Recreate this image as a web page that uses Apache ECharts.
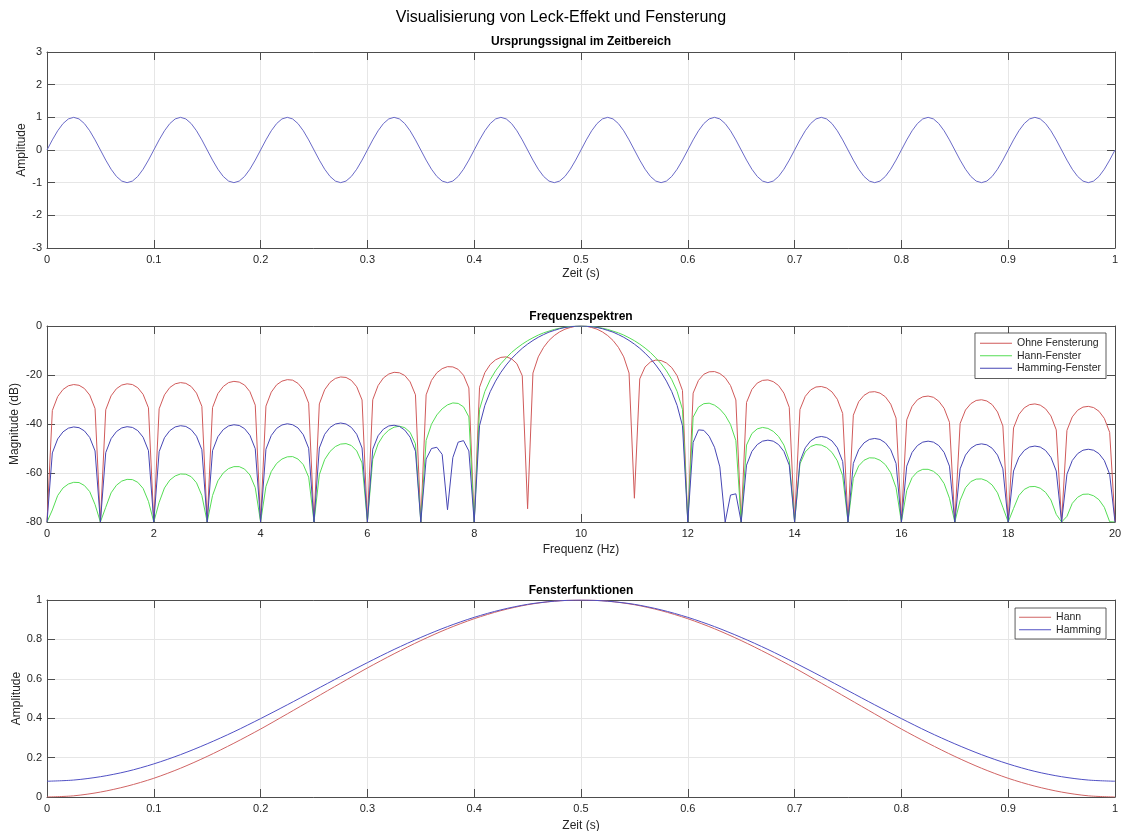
<!DOCTYPE html>
<html>
<head>
<meta charset="utf-8">
<script src="https://cdn.jsdelivr.net/npm/echarts@6/dist/echarts.min.js"></script>
<style>
  html, body { margin: 0; padding: 0; background: #ffffff; }
  #chart { width: 1123px; height: 831px; }
</style>
</head>
<body>
<div id="chart"></div>
<script>
// ---- Time signal: 10 Hz sine, sampled every 5 ms over 1 s ----
const sineStepS = 0.005;
const sineAmplitude = [
  0, 0.309, 0.588, 0.809, 0.951, 1, 0.951, 0.809, 0.588, 0.309, 0, -0.309, -0.588, -0.809, -0.951, -1, -0.951, -0.809, -0.588, -0.309,
  0, 0.309, 0.588, 0.809, 0.951, 1, 0.951, 0.809, 0.588, 0.309, 0, -0.309, -0.588, -0.809, -0.951, -1, -0.951, -0.809, -0.588, -0.309,
  0, 0.309, 0.588, 0.809, 0.951, 1, 0.951, 0.809, 0.588, 0.309, 0, -0.309, -0.588, -0.809, -0.951, -1, -0.951, -0.809, -0.588, -0.309,
  0, 0.309, 0.588, 0.809, 0.951, 1, 0.951, 0.809, 0.588, 0.309, 0, -0.309, -0.588, -0.809, -0.951, -1, -0.951, -0.809, -0.588, -0.309,
  0, 0.309, 0.588, 0.809, 0.951, 1, 0.951, 0.809, 0.588, 0.309, 0, -0.309, -0.588, -0.809, -0.951, -1, -0.951, -0.809, -0.588, -0.309,
  0, 0.309, 0.588, 0.809, 0.951, 1, 0.951, 0.809, 0.588, 0.309, 0, -0.309, -0.588, -0.809, -0.951, -1, -0.951, -0.809, -0.588, -0.309,
  0, 0.309, 0.588, 0.809, 0.951, 1, 0.951, 0.809, 0.588, 0.309, 0, -0.309, -0.588, -0.809, -0.951, -1, -0.951, -0.809, -0.588, -0.309,
  0, 0.309, 0.588, 0.809, 0.951, 1, 0.951, 0.809, 0.588, 0.309, 0, -0.309, -0.588, -0.809, -0.951, -1, -0.951, -0.809, -0.588, -0.309,
  0, 0.309, 0.588, 0.809, 0.951, 1, 0.951, 0.809, 0.588, 0.309, 0, -0.309, -0.588, -0.809, -0.951, -1, -0.951, -0.809, -0.588, -0.309,
  0, 0.309, 0.588, 0.809, 0.951, 1, 0.951, 0.809, 0.588, 0.309, 0, -0.309, -0.588, -0.809, -0.951, -1, -0.951, -0.809, -0.588, -0.309,
  0
];

// ---- Magnitude spectra in dB, one value every 0.1 Hz from 0 to 20 Hz ----
const freqStepHz = 0.1;
const magOhneFenster = [
  -80, -34.5, -28.8, -25.9, -24.4, -23.9, -24.2, -25.5, -28.2, -33.7,
  -80, -34.2, -28.5, -25.6, -24.1, -23.6, -23.9, -25.2, -27.9, -33.4,
  -80, -33.8, -28.1, -25.1, -23.6, -23.1, -23.4, -24.7, -27.4, -32.8,
  -80, -33.3, -27.6, -24.7, -23.1, -22.6, -22.9, -24.1, -26.8, -32.3,
  -80, -32.7, -27.0, -24.0, -22.5, -21.9, -22.1, -23.4, -26.0, -31.5,
  -80, -31.8, -26.0, -23.0, -21.4, -20.8, -21.0, -22.2, -24.8, -30.2,
  -80, -30.1, -24.3, -21.2, -19.6, -18.9, -19.1, -20.2, -22.8, -28.1,
  -80, -28.1, -22.2, -19.1, -17.4, -16.6, -16.7, -17.7, -20.1, -25.3,
  -80, -25.0, -19.0, -15.7, -13.8, -12.8, -12.6, -13.4, -15.4, -20.3,
  -74.6, -19.2, -12.6, -8.7, -5.9, -3.9, -2.4, -1.3, -0.6, -0.1,
  0, -0.1, -0.6, -1.3, -2.4, -3.9, -5.9, -8.7, -12.6, -19.2,
  -70.3, -21.6, -16.7, -14.7, -13.9, -14.1, -15.1, -17.0, -20.3, -26.3,
  -80, -27.4, -22.2, -19.7, -18.7, -18.6, -19.4, -21.1, -24.3, -30.2,
  -80, -31.2, -25.9, -23.3, -22.2, -22.0, -22.7, -24.3, -27.4, -33.2,
  -80, -34.1, -28.7, -26.1, -24.9, -24.7, -25.3, -26.9, -29.9, -35.7,
  -80, -36.4, -30.9, -28.3, -27.0, -26.8, -27.4, -28.9, -31.9, -37.6,
  -80, -38.3, -32.8, -30.1, -28.9, -28.6, -29.1, -30.7, -33.6, -39.3,
  -80, -39.8, -34.3, -31.7, -30.4, -30.1, -30.6, -32.1, -35.1, -40.8,
  -80, -41.6, -36.1, -33.4, -32.1, -31.8, -32.3, -33.8, -36.7, -42.4,
  -80, -42.6, -37.1, -34.4, -33.1, -32.8, -33.3, -34.8, -37.7, -43.4,
  -80
];
const magHannFenster = [
  -80, -75.1, -69.2, -66.1, -64.5, -63.8, -63.9, -65.1, -67.6, -72.9,
  -80, -74.0, -68.1, -65.0, -63.3, -62.6, -62.7, -63.8, -66.3, -71.6,
  -80, -72.0, -66.1, -62.9, -61.2, -60.4, -60.5, -61.5, -64.0, -69.2,
  -80, -69.2, -63.2, -60.0, -58.2, -57.4, -57.4, -58.4, -60.8, -66.0,
  -80, -65.5, -59.4, -56.1, -54.3, -53.4, -53.3, -54.3, -56.6, -61.7,
  -80, -60.7, -54.5, -51.2, -49.2, -48.2, -48.0, -48.8, -51.0, -55.9,
  -80, -54.4, -48.1, -44.6, -42.5, -41.3, -40.9, -41.5, -43.4, -48.1,
  -80, -46.7, -40.1, -36.3, -33.8, -32.2, -31.4, -31.6, -33.0, -37.1,
  -80, -34.0, -26.7, -21.9, -18.3, -15.4, -13.0, -10.8, -9.0, -7.4,
  -6.0, -4.8, -3.7, -2.8, -2.1, -1.4, -0.9, -0.5, -0.2, -0.1,
  0, -0.1, -0.2, -0.5, -0.9, -1.4, -2.1, -2.8, -3.7, -4.8,
  -6.0, -7.4, -9.0, -10.8, -13.0, -15.4, -18.3, -21.9, -26.7, -34.0,
  -80, -37.2, -33.1, -31.7, -31.5, -32.3, -33.9, -36.4, -40.2, -46.8,
  -80, -48.6, -43.9, -42.0, -41.4, -41.8, -43.0, -45.1, -48.6, -54.9,
  -80, -56.3, -51.4, -49.2, -48.4, -48.6, -49.6, -51.6, -55.0, -61.1,
  -80, -62.2, -57.1, -54.8, -53.8, -53.9, -54.8, -56.6, -59.9, -66.0,
  -80, -67.1, -61.9, -59.5, -58.5, -58.5, -59.3, -61.1, -64.3, -70.3,
  -80, -71.2, -66.0, -63.5, -62.5, -62.4, -63.2, -64.9, -68.1, -74.0,
  -80, -74.5, -69.2, -66.7, -65.6, -65.5, -66.2, -67.9, -71.0, -76.9,
  -80, -77.7, -72.4, -69.9, -68.7, -68.6, -69.3, -70.9, -74.0, -79.9,
  -80
];
const magHammingFenster = [
  -80, -51.8, -46.1, -43.2, -41.7, -41.2, -41.5, -42.8, -45.5, -51.0,
  -80, -51.7, -46.0, -43.1, -41.6, -41.1, -41.4, -42.7, -45.4, -50.9,
  -80, -51.3, -45.6, -42.7, -41.2, -40.7, -41.0, -42.3, -45.0, -50.5,
  -80, -50.9, -45.2, -42.3, -40.8, -40.3, -40.6, -41.9, -44.6, -50.1,
  -80, -50.3, -44.7, -41.8, -40.4, -39.9, -40.3, -41.6, -44.4, -49.9,
  -80, -49.8, -44.2, -41.4, -40.0, -39.6, -40.0, -41.4, -44.2, -49.8,
  -80, -50.3, -44.8, -42.1, -40.8, -40.5, -41.0, -42.5, -45.4, -51.1,
  -80, -54.3, -50.0, -49.5, -52.4, -75.0, -53.7, -47.4, -46.8, -51.0,
  -80, -40.7, -32.4, -26.8, -22.5, -18.9, -15.9, -13.3, -11.1, -9.1,
  -7.4, -5.9, -4.6, -3.5, -2.5, -1.8, -1.1, -0.6, -0.3, -0.1,
  0, -0.1, -0.3, -0.6, -1.1, -1.8, -2.5, -3.5, -4.6, -5.9,
  -7.4, -9.1, -11.1, -13.3, -15.9, -18.9, -22.5, -26.8, -32.4, -40.7,
  -80, -47.5, -42.4, -42.6, -45.0, -49.5, -57.5, -80, -69.0, -68.5,
  -80, -56.8, -51.2, -48.4, -47.0, -46.6, -47.0, -48.4, -51.2, -56.8,
  -80, -55.3, -49.7, -46.9, -45.5, -45.1, -45.5, -46.9, -49.7, -55.3,
  -80, -56.1, -50.5, -47.7, -46.3, -45.9, -46.3, -47.7, -50.5, -56.1,
  -80, -57.2, -51.6, -48.8, -47.4, -47.0, -47.4, -48.8, -51.6, -57.2,
  -80, -58.3, -52.7, -49.9, -48.5, -48.1, -48.5, -49.9, -52.7, -58.3,
  -80, -59.2, -53.6, -50.8, -49.4, -49.0, -49.4, -50.8, -53.6, -59.2,
  -80, -60.5, -54.9, -52.1, -50.7, -50.3, -50.7, -52.1, -54.9, -60.5,
  -80
];

// ---- Window functions, one value every 25 ms ----
const windowStepS = 0.025;
const windowHann = [
  0, 0.006, 0.025, 0.055, 0.095, 0.146, 0.206, 0.273, 0.345, 0.422,
  0.5, 0.578, 0.655, 0.727, 0.794, 0.854, 0.905, 0.946, 0.976, 0.994,
  1, 0.994, 0.976, 0.946, 0.905, 0.854, 0.794, 0.727, 0.655, 0.578,
  0.5, 0.422, 0.345, 0.273, 0.206, 0.146, 0.095, 0.055, 0.025, 0.006, 0
];
const windowHamming = [
  0.08, 0.086, 0.103, 0.13, 0.168, 0.215, 0.27, 0.331, 0.398, 0.468,
  0.54, 0.612, 0.682, 0.749, 0.81, 0.865, 0.912, 0.95, 0.978, 0.994,
  1, 0.994, 0.978, 0.95, 0.912, 0.865, 0.81, 0.749, 0.682, 0.612,
  0.54, 0.468, 0.398, 0.331, 0.27, 0.215, 0.168, 0.13, 0.103, 0.086, 0.08
];

// Pair evenly sampled values with their abscissa
function sampled(step, values) {
  return values.map((v, i) => [Number((i * step).toFixed(4)), v]);
}

const FONT = '"Liberation Sans", Arial, Helvetica, sans-serif';
const AXIS_COLOR = '#4d4d4d';
const GRID_COLOR = '#e6e6e6';
const TEXT_COLOR = '#262626';

const grids = [
  { left: 47, top: 52, width: 1068, height: 196, outerBoundsMode: 'none', containLabel: false },
  { left: 47, top: 326, width: 1068, height: 196, outerBoundsMode: 'none', containLabel: false },
  { left: 47, top: 600, width: 1068, height: 197, outerBoundsMode: 'none', containLabel: false }
];

function mainX(gridIndex, min, max, interval, name, nameGap) {
  return {
    type: 'value', gridIndex, min, max, interval, position: 'bottom',
    name, nameLocation: 'middle', nameGap,
    nameTextStyle: { fontFamily: FONT, fontSize: 12, color: TEXT_COLOR },
    axisLine: { show: true, onZero: false, lineStyle: { color: AXIS_COLOR, width: 1 } },
    axisTick: { show: true, inside: true, length: 8, lineStyle: { color: AXIS_COLOR } },
    axisLabel: { fontFamily: FONT, fontSize: 11, color: TEXT_COLOR, margin: 6 },
    splitLine: { show: true, lineStyle: { color: GRID_COLOR, width: 1 } }
  };
}
function boxX(gridIndex, min, max, interval) {
  return {
    type: 'value', gridIndex, min, max, interval, position: 'top',
    axisLine: { show: true, onZero: false, lineStyle: { color: AXIS_COLOR, width: 1 } },
    axisTick: { show: true, inside: true, length: 8, lineStyle: { color: AXIS_COLOR } },
    axisLabel: { show: false },
    splitLine: { show: false }
  };
}
function mainY(gridIndex, min, max, interval, name, nameGap) {
  return {
    type: 'value', gridIndex, min, max, interval, position: 'left',
    name, nameLocation: 'middle', nameGap, nameRotate: 90, nameMoveOverlap: false,
    nameTextStyle: { fontFamily: FONT, fontSize: 12, color: TEXT_COLOR },
    axisLine: { show: true, onZero: false, lineStyle: { color: AXIS_COLOR, width: 1 } },
    axisTick: { show: true, inside: true, length: 8, lineStyle: { color: AXIS_COLOR } },
    axisLabel: { fontFamily: FONT, fontSize: 11, color: TEXT_COLOR, margin: 5 },
    splitLine: { show: true, lineStyle: { color: GRID_COLOR, width: 1 } }
  };
}
function boxY(gridIndex, min, max, interval) {
  return {
    type: 'value', gridIndex, min, max, interval, position: 'right',
    axisLine: { show: true, onZero: false, lineStyle: { color: AXIS_COLOR, width: 1 } },
    axisTick: { show: true, inside: true, length: 8, lineStyle: { color: AXIS_COLOR } },
    axisLabel: { show: false },
    splitLine: { show: false }
  };
}

function lineSeries(name, xAxisIndex, yAxisIndex, data, color, smooth) {
  return {
    type: 'line', name, xAxisIndex, yAxisIndex, data,
    symbol: 'none', smooth: smooth || false, clip: true,
    lineStyle: { color, width: 1 }, itemStyle: { color },
    emphasis: { disabled: true }
  };
}

function legendBox(names, right, top, padding) {
  return {
    data: names, orient: 'vertical', right, top,
    icon: 'rect', itemWidth: 32, itemHeight: 1, itemGap: 0, itemTextGap: 4,
    padding,
    backgroundColor: '#ffffff', borderColor: '#333333', borderWidth: 0.8, borderRadius: 0,
    textStyle: { fontFamily: FONT, fontSize: 10.5, color: TEXT_COLOR, lineHeight: 12.5 },
    selectedMode: false
  };
}

function caption(text, x, y, size, weight) {
  return {
    type: 'text', x, y, silent: true,
    style: {
      text, fill: '#000000', font: `${weight} ${size}px ${FONT}`,
      textAlign: 'center', textVerticalAlign: 'middle'
    }
  };
}

const chart = echarts.init(document.getElementById('chart'), null, { renderer: 'canvas' });
chart.setOption({
  backgroundColor: '#ffffff',
  animation: false,
  grid: grids,
  xAxis: [
    mainX(0, 0, 1, 0.1, 'Zeit (s)', 20), boxX(0, 0, 1, 0.1),
    mainX(1, 0, 20, 2, 'Frequenz (Hz)', 22), boxX(1, 0, 20, 2),
    mainX(2, 0, 1, 0.1, 'Zeit (s)', 23), boxX(2, 0, 1, 0.1)
  ],
  yAxis: [
    mainY(0, -3, 3, 1, 'Amplitude', 19), boxY(0, -3, 3, 1),
    mainY(1, -80, 0, 20, 'Magnitude (dB)', 26), boxY(1, -80, 0, 20),
    mainY(2, 0, 1, 0.2, 'Amplitude', 24), boxY(2, 0, 1, 0.2)
  ],
  legend: [
    legendBox(['Ohne Fensterung', 'Hann-Fenster', 'Hamming-Fenster'], 17, 333, [4, 5, 4, 5]),
    legendBox(['Hann', 'Hamming'], 17, 608, [3, 5, 3, 4])
  ],
  graphic: [
    caption('Visualisierung von Leck-Effekt und Fensterung', 561, 18, 16, 'normal'),
    caption('Ursprungssignal im Zeitbereich', 581, 42, 12, 'bold'),
    caption('Frequenzspektren', 581, 317, 12, 'bold'),
    caption('Fensterfunktionen', 581, 591, 12, 'bold')
  ],
  series: [
    lineSeries('Signal', 0, 0, sampled(sineStepS, sineAmplitude), '#6a6ac8'),
    lineSeries('Ohne Fensterung', 2, 2, sampled(freqStepHz, magOhneFenster), '#d05a5a'),
    lineSeries('Hann-Fenster', 2, 2, sampled(freqStepHz, magHannFenster), '#55dd55'),
    lineSeries('Hamming-Fenster', 2, 2, sampled(freqStepHz, magHammingFenster), '#4646b4'),
    lineSeries('Hann', 4, 4, sampled(windowStepS, windowHann), '#d06464', 0.3),
    lineSeries('Hamming', 4, 4, sampled(windowStepS, windowHamming), '#5050c4', 0.3)
  ]
});
</script>
</body>
</html>
